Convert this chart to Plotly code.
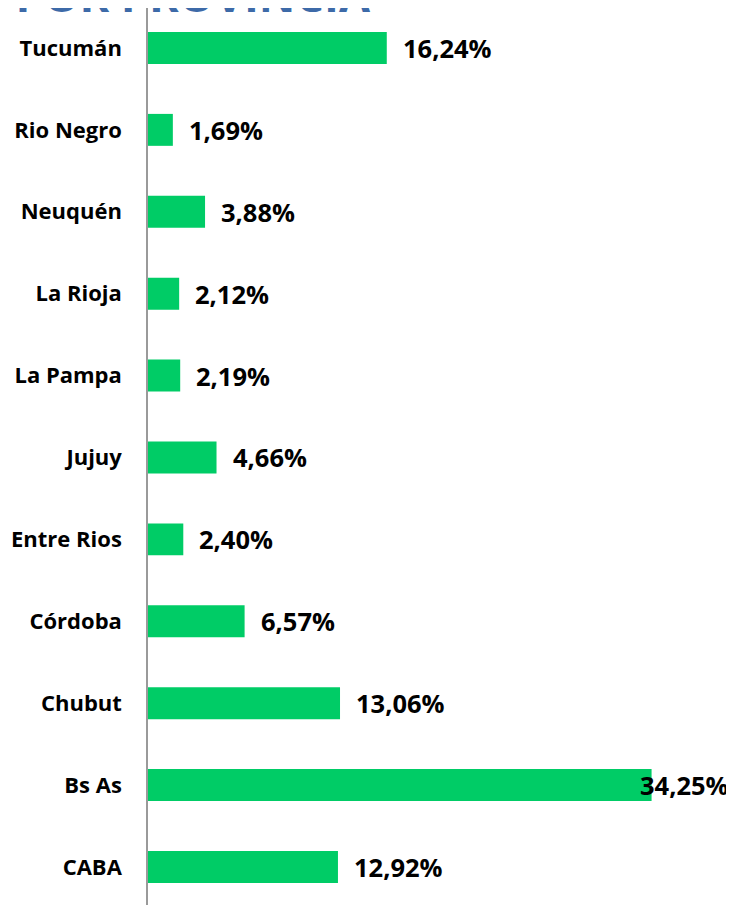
import plotly.graph_objects as go

provincias = ["Tucumán", "Rio Negro", "Neuquén", "La Rioja", "La Pampa", "Jujuy",
              "Entre Rios", "Córdoba", "Chubut", "Bs As", "CABA"]
porcentajes = [16.24, 1.69, 3.88, 2.12, 2.19, 4.66, 2.40, 6.57, 13.06, 34.25, 12.92]
etiquetas = ["16,24%", "1,69%", "3,88%", "2,12%", "2,19%", "4,66%",
             "2,40%", "6,57%", "13,06%", "34,25%", "12,92%"]
desplazamientos = [14, 14, 14, 14, 14, 14, 14, 14, 14, -14, 14]

fig = go.Figure()
fig.add_trace(go.Bar(
    x=porcentajes, y=provincias, orientation="h",
    marker=dict(color="#00cc66", line=dict(width=0)),
    width=0.39,
    hoverinfo="skip",
))

for p, v, t, s in zip(provincias, porcentajes, etiquetas, desplazamientos):
    fig.add_annotation(x=v, y=p, xref="x", yref="y", text=t, showarrow=False,
                       xanchor="left", yanchor="middle", xshift=s,
                       font=dict(family="Open Sans", size=25.5, color="#000000", weight="bold"))

fig.update_layout(
    width=734, height=905,
    margin=dict(l=140, r=0, t=0, b=0, autoexpand=False),
    paper_bgcolor="white", plot_bgcolor="white",
    showlegend=False,
    title=dict(text="DISTRIBUCIÓN POR PROVINCIA", xref="container", yref="container",
               x=362 / 734, xanchor="right", y=1 - 4 / 905, yanchor="bottom",
               automargin=False,
               font=dict(family="Open Sans", size=45, color="#3d6aa8", weight="bold")),
    xaxis=dict(range=[0, 40.4], visible=False, fixedrange=True, automargin=False),
    yaxis=dict(categoryorder="array", categoryarray=provincias,
               range=[10.562, -0.488], showgrid=False, zeroline=False,
               showline=True, linecolor="#9a9a9a", linewidth=1.5,
               ticks="", ticklabelstandoff=20, automargin=False,
               tickfont=dict(family="Open Sans", size=22, color="#000000", weight="bold")),
)

fig.write_html("out.html")
